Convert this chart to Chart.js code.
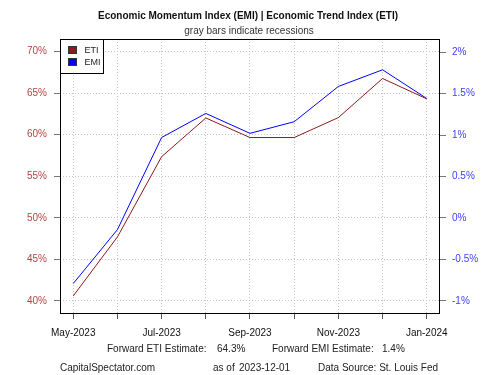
<!DOCTYPE html>
<html>
<head>
<meta charset="utf-8">
<script src="https://cdn.jsdelivr.net/npm/chart.js@4/dist/chart.umd.min.js"></script>
<style>
  body { margin: 0; background: #fff; }
  #wrap { width: 500px; height: 375px; }
</style>
</head>
<body>
<div id="wrap"><canvas id="chart-area" width="500" height="375"></canvas></div>
<script>
// monthly values
const months = ['May-2023', 'Jun-2023', 'Jul-2023', 'Aug-2023', 'Sep-2023', 'Oct-2023', 'Nov-2023', 'Dec-2023', 'Jan-2024'];
const etiValues = [40.6, 47.7, 57.35, 62.0, 59.65, 59.65, 62.05, 66.75, 64.3];
const emiValues = [-0.79, -0.14, 0.97, 1.26, 1.02, 1.16, 1.585, 1.786, 1.44];

const FONT = "'Liberation Sans', Arial, sans-serif";
const colorETI = '#8B1A1A';
const colorEMI = '#0000FF';

function fmtPct(v) {
  return (Math.round(v * 10) / 10) + '%';
}

const decorPlugin = {
  id: 'decor',
  afterDraw(chart) {
    const ctx = chart.ctx;
    const a = chart.chartArea;
    ctx.save();
    // plot box
    ctx.strokeStyle = '#000';
    ctx.lineWidth = 1;
    ctx.strokeRect(Math.round(a.left) + 0.5, Math.round(a.top) + 0.5, Math.round(a.right - a.left) - 1, Math.round(a.bottom - a.top));

    // legend
    const lx = Math.round(a.left) + 0.5, ly = Math.round(a.top) + 0.5;
    ctx.fillStyle = '#fff';
    ctx.fillRect(lx, ly, 43, 34);
    ctx.strokeRect(lx, ly, 43, 34);
    [[colorETI, 'ETI', 0], [colorEMI, 'EMI', 1]].forEach(([c, t, i]) => {
      const sy = ly + 7 + i * 12;
      ctx.fillStyle = c;
      ctx.fillRect(lx + 8, sy, 8, 7);
      ctx.strokeStyle = '#333';
      ctx.strokeRect(lx + 8, sy, 8, 7);
      ctx.fillStyle = '#222';
      ctx.font = '9px ' + FONT;
      ctx.textBaseline = 'middle';
      ctx.textAlign = 'left';
      ctx.fillText(t, lx + 24, sy + 4);
    });

    // titles
    ctx.fillStyle = '#111';
    ctx.textAlign = 'center';
    ctx.textBaseline = 'middle';
    ctx.font = 'bold 10px ' + FONT;
    ctx.fillText('Economic Momentum Index (EMI) | Economic Trend Index (ETI)', 248, 16);
    ctx.font = '10px ' + FONT;
    ctx.fillStyle = '#333';
    ctx.fillText('gray bars indicate recessions', 249, 31);

    // footer
    ctx.textAlign = 'left';
    ctx.fillStyle = '#222';
    ctx.fillText('Forward ETI Estimate:', 107, 349.5);
    ctx.fillText(fmtPct(etiValues[etiValues.length - 1]), 217, 349.5);
    ctx.fillText('Forward EMI Estimate:', 272, 349.5);
    ctx.fillText(fmtPct(emiValues[emiValues.length - 1]), 382, 349.5);
    ctx.fillText('CapitalSpectator.com', 60, 368);
    ctx.fillText('as of', 213, 368);
    ctx.fillText('2023-12-01', 239, 368);
    ctx.fillText('Data Source: St. Louis Fed', 318, 368);
    ctx.restore();
  }
};

const ctx = document.getElementById('chart-area').getContext('2d');
const chart = new Chart(ctx, {
  type: 'line',
  data: {
    datasets: [{
      label: 'ETI',
      data: etiValues.map((v, i) => ({ x: i, y: v })),
      yAxisID: 'y',
      borderColor: colorETI,
      backgroundColor: colorETI,
      borderWidth: 1,
      pointRadius: 0,
      tension: 0
    }, {
      label: 'EMI',
      data: emiValues.map((v, i) => ({ x: i, y: v })),
      yAxisID: 'y2',
      borderColor: colorEMI,
      backgroundColor: colorEMI,
      borderWidth: 1,
      pointRadius: 0,
      tension: 0
    }]
  },
  options: {
    responsive: false,
    animation: false,
    layout: { padding: { top: 39, left: 0, right: 0, bottom: 0 } },
    plugins: {
      legend: { display: false },
      title: { display: false },
      tooltip: { enabled: false }
    },
    scales: {
      x: {
        type: 'linear',
        min: -0.3,
        max: 8.3,
        afterFit(scale) { scale.height = 62; },
        ticks: {
          stepSize: 1,
          includeBounds: false,
          autoSkip: false,
          maxRotation: 0,
          padding: 8,
          color: '#111',
          font: { family: FONT, size: 10 },
          callback: (v) => (Number.isInteger(v) && v % 2 === 0 ? months[v] : '')
        },
        grid: {
          color: '#c4c4c4',
          tickLength: 6,
          tickColor: '#555',
          tickBorderDash: []
        },
        border: { display: false, dash: [1, 2] }
      },
      y: {
        position: 'left',
        min: 38.55,
        max: 71.5,
        afterFit(scale) { scale.width = 60; },
        ticks: {
          stepSize: 5,
          includeBounds: false,
          padding: 7,
          color: '#B24545',
          font: { family: FONT, size: 10 },
          callback: (v) => v + '%'
        },
        grid: {
          color: '#c4c4c4',
          tickLength: 6,
          tickColor: '#777',
          tickBorderDash: []
        },
        border: { display: false, dash: [1, 2] }
      },
      y2: {
        position: 'right',
        min: -1.145,
        max: 2.157,
        afterFit(scale) { scale.width = 60; },
        ticks: {
          stepSize: 0.5,
          includeBounds: false,
          padding: 6,
          color: '#4040FF',
          font: { family: FONT, size: 10 },
          callback: (v) => fmtPct(v)
        },
        grid: {
          drawOnChartArea: false,
          tickLength: 6,
          tickColor: '#777'
        },
        border: { display: false }
      }
    }
  },
  plugins: [decorPlugin]
});
</script>
</body>
</html>
